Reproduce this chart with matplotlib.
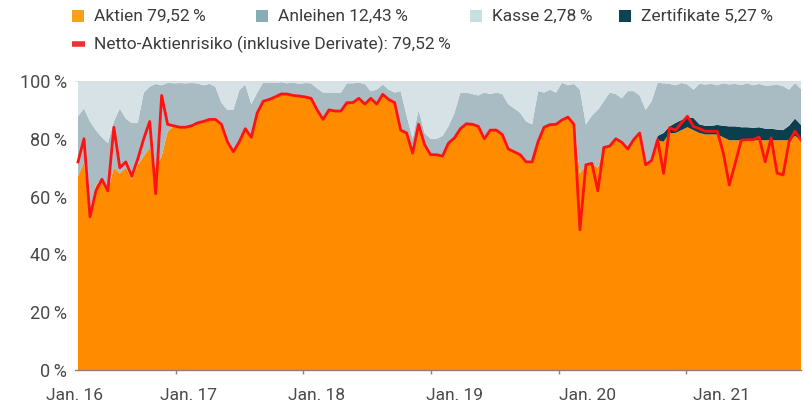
import numpy as np
import matplotlib
matplotlib.use("Agg")
import matplotlib.pyplot as plt
from matplotlib.patches import Rectangle
from matplotlib.lines import Line2D

plt.rcParams['font.family'] = ['Roboto', 'DejaVu Sans']
plt.rcParams['font.weight'] = 'normal'

# ---------------- data (percent of fund) ----------------
aktien = [67, 72, 55, 64, 66, 62, 70, 68, 70, 66, 71, 74, 77, 70, 74, 82.5,
          84.5, 84, 84, 84.5, 85.5, 86, 86.7, 86.7, 85, 79, 75.5, 79, 83.5, 80.5, 89,
          93, 93.6, 94.5, 95.5, 95.5, 95, 94.8, 94.5, 94, 90.1, 86.7, 90, 89.6, 89.6,
          92.5, 92.5, 94, 92, 94, 92, 95.4, 93.6, 92.5, 83,
          82, 75, 85, 78, 74.5, 74.5, 74, 78.5, 80.3, 83.5, 85.2, 85, 84.3, 80, 83,
          83, 81.5, 76.5, 75.5, 74.5, 72, 72, 79, 84, 84.9, 85, 86.5, 87.5, 85,
          68, 71, 71.5, 70, 77, 77.5, 80, 78.8, 76.5, 79.7, 82, 71, 72.5,
          79.5, 79, 82, 82, 83, 84, 83, 82, 81.5, 81.5, 81.5, 80.5, 79.5, 79.5, 79.5,
          79.5, 79.5, 79.5, 79.5, 79.5, 79.5, 79.5, 79.5, 81, 79.5]

zertifikate = [0] * 96 + [0.5, 1.5, 3, 2.3, 3.5, 3.5, 3.2, 4.2, 3, 3, 3, 3.3, 4, 4.8,
                          4.8, 4.5, 4.5, 4.3, 4.5, 4, 4, 3.7, 3.5, 5, 6, 5.3]

# upper edge of the bond band (Aktien + Zertifikate + Anleihen); rest is Kasse
anleihen_oberkante = [87.8, 90.5, 86, 83, 80.5, 78.5, 86, 90.5, 87, 85.5, 85.5, 96, 98, 99, 98.5, 99.4,
                      99.2, 99.3, 99.2, 99.3, 99.2, 98.5, 99, 98, 92.5, 90, 90, 96.8, 98.8, 92, 96, 99.5,
                      99.5, 99.3, 99.6, 99.2, 99.5, 99.0, 99.3, 99.2, 97.5, 96, 96, 96, 96, 99.2, 99.2,
                      99.4, 99, 96.5, 97, 98.8, 97, 96, 96.5,
                      88, 80, 90, 82, 80, 80, 81, 84.3, 89, 96, 96, 95.5, 95, 96, 95.5, 96, 95.5, 92,
                      90.5, 89, 86, 85, 96.5, 96, 97, 96, 99.4, 98.5, 99, 97,
                      85, 88, 90, 93, 96, 95.5, 94, 96.5, 96.5, 95, 90, 93, 99.4,
                      99.2, 99, 98.5, 99.3, 98.8, 97, 99, 98.8, 99, 98.5, 99.2, 98.8, 99, 98.6, 99.2,
                      98.5, 99, 98.4, 98.5, 98.7, 98.2, 97, 99.3, 97.2]

netto = [72, 80, 53, 62, 66, 62, 84, 70, 72, 67, 73, 80, 86, 61, 95, 85,
         84.5, 84, 84, 84.5, 85.5, 86, 86.7, 86.7, 85, 79, 75.5, 79, 83.5, 80.5, 89,
         93, 93.6, 94.5, 95.5, 95.5, 95, 94.8, 94.5, 94, 90.1, 86.7, 90, 89.6, 89.6,
         92.5, 92.5, 94, 92, 94, 92, 95.4, 93.6, 92.5, 83,
         82, 75, 85, 78, 74.5, 74.5, 74, 78.5, 80.3, 83.5, 85.2, 85, 84.3, 80, 83,
         83, 81.5, 76.5, 75.5, 74.5, 72, 72, 79, 84, 84.9, 85, 86.5, 87.5, 85,
         48.5, 71, 71.5, 62, 77, 77.5, 80, 78.8, 76.5, 79.7, 82, 71, 72.5,
         79.7, 68, 83.8, 83, 85.5, 87.8, 84.3, 83.5, 82.6, 82.6, 82.6, 75, 64, 71.6,
         79.5, 79.7, 79.7, 80.6, 72, 80.3, 68.1, 67.5, 79, 82.6, 79.5]

start_year, end_year = 2016.236, 2021.897
year_ticks = [2017, 2018, 2019, 2020, 2021]
x_labels = ["Jan. 16", "Jan. 17", "Jan. 18", "Jan. 19", "Jan. 20", "Jan. 21"]
x_label_pos = [2016.2125, 2017.1014, 2018.1072, 2019.1832, 2020.2281, 2021.2729]
y_ticks = [0, 20, 40, 60, 80, 100]

legend_items = ["Aktien 79,52\u2009%", "Anleihen 12,43\u2009%", "Kasse 2,78\u2009%", "Zertifikate 5,27\u2009%"]
legend_netto = "Netto-Aktienrisiko (inklusive Derivate): 79,52\u2009%"

# ---------------- derived ----------------
aktien_a = np.array(aktien, float)
zert_a = np.array(zertifikate, float)
top_a = np.array(anleihen_oberkante, float)
anleihen_a = top_a - aktien_a - zert_a
kasse_a = 100 - top_a
n = len(aktien_a)
assert len(zert_a) == n and len(top_a) == n and len(netto) == n
x = np.linspace(start_year, end_year, n)

# ---------------- figure ----------------
W, H = 805, 409
fig = plt.figure(figsize=(W / 100, H / 100), dpi=100)
ax = fig.add_axes([75 / W, 39 / H, 726 / W, 289 / H])

c_akt, c_zert, c_anl, c_kas = '#FF8C00', '#0C3F4D', '#A9BBC3', '#D6E2E6'
ax.stackplot(x, aktien_a, zert_a, anleihen_a, kasse_a,
             colors=[c_akt, c_zert, c_anl, c_kas], linewidth=0)
ax.plot(x, netto, color='#FF1212', lw=2.0)
ax.axhline(100, color='#DCDCDC', lw=1.2)

ax.set_xlim(start_year, end_year)
ax.set_ylim(0, 100)
for s in ['left', 'right', 'top']:
    ax.spines[s].set_visible(False)
ax.spines['bottom'].set_color('#8C8070')
ax.spines['bottom'].set_linewidth(1.0)

ax.set_yticks(y_ticks)
ax.set_yticklabels([f"{v}\u2009%" for v in y_ticks])
ax.tick_params(axis='y', length=0, pad=6, labelsize=13, labelcolor='#4a4a4a')

ax.set_xticks(x_label_pos)
ax.set_xticklabels(x_labels)
ax.set_xticks(year_ticks, minor=True)
ax.tick_params(axis='x', which='major', length=0, pad=13, labelsize=12.5, labelcolor='#4a4a4a')
ax.tick_params(axis='x', which='minor', length=3, width=1, color='#8C8070')

# ---------------- legend ----------------
def fx(px):
    return px / W

def fy(py):
    return 1 - py / H

leg_colors = ['#F9A01B', '#86ACB4', '#C6DEE0', '#0A4453']
leg_sq_x = [72, 256, 470, 619]
for lab, col, px in zip(legend_items, leg_colors, leg_sq_x):
    fig.patches.append(Rectangle((fx(px), fy(22)), 12 / W, 12 / H, transform=fig.transFigure,
                                 facecolor=col, edgecolor='none'))
    fig.text(fx(px + 22), fy(16), lab, fontsize=12.5, color='#3c3c3c', va='center', ha='left')

fig.lines.append(Line2D([fx(72), fx(85)], [fy(44), fy(44)], transform=fig.transFigure,
                        color='#EE3030', lw=4, solid_capstyle='butt'))
fig.text(fx(94), fy(44), legend_netto, fontsize=12.5, color='#3c3c3c', va='center', ha='left')

fig.savefig('out.png', dpi=100)
